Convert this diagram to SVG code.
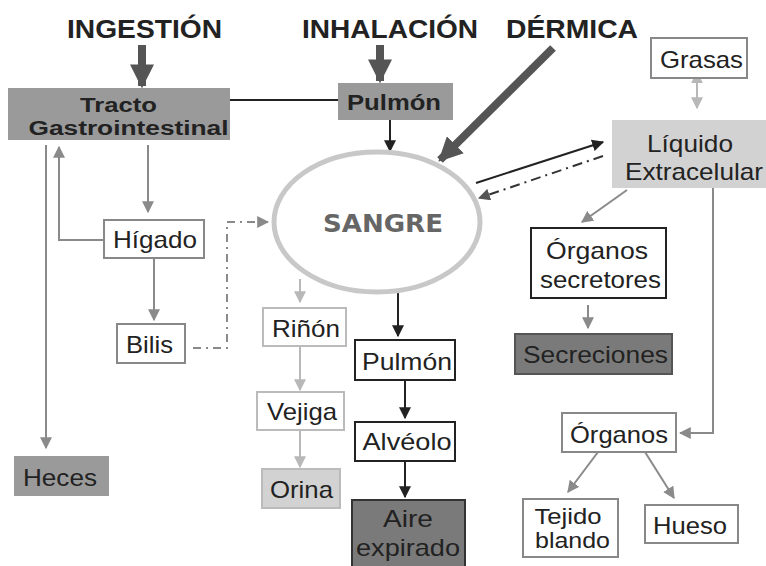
<svg xmlns="http://www.w3.org/2000/svg" width="766" height="566" viewBox="0 0 766 566">
<style>
text{font-family:"Liberation Sans",Arial,sans-serif;fill:#222;text-anchor:middle}
.t{font-size:25px;font-weight:bold}
.b{font-size:22px;font-weight:bold}
.b2{font-size:20px;font-weight:bold}
.n{font-size:24px}
.s{font-size:22px}
.dark{fill:#9a9a9a;stroke:none}
.light{fill:#d2d2d2;stroke:none}
.wg{fill:#fff;stroke:#888;stroke-width:2}
.wl{fill:#fff;stroke:#bbb;stroke-width:2}
.wk{fill:#fff;stroke:#222;stroke-width:2}
.dg{fill:#7a7a7a;stroke:#555;stroke-width:2}
.cg{stroke:#8a8a8a;stroke-width:2;fill:none}
.cl{stroke:#b8b8b8;stroke-width:2;fill:none}
.ck{stroke:#222;stroke-width:2;fill:none}
</style>
<defs>
<marker id="ag" viewBox="0 0 10 10" refX="9" refY="5" markerWidth="6" markerHeight="6" orient="auto"><path d="M0,0L10,5L0,10z" fill="#8a8a8a"/></marker>
<marker id="al" viewBox="0 0 10 10" refX="9" refY="5" markerWidth="6" markerHeight="6" orient="auto"><path d="M0,0L10,5L0,10z" fill="#b8b8b8"/></marker>
<marker id="als" viewBox="0 0 10 10" refX="1" refY="5" markerWidth="6" markerHeight="6" orient="auto-start-reverse"><path d="M0,0L10,5L0,10z" fill="#b8b8b8"/></marker>
<marker id="ak" viewBox="0 0 10 10" refX="9" refY="5" markerWidth="6" markerHeight="6" orient="auto"><path d="M0,0L10,5L0,10z" fill="#222"/></marker>
<marker id="ad" viewBox="0 0 10 10" refX="9" refY="5" markerWidth="6" markerHeight="6" orient="auto"><path d="M0,0L10,5L0,10z" fill="#555"/></marker>
<marker id="big" viewBox="0 0 10 10" refX="9" refY="5" markerWidth="3" markerHeight="3" orient="auto"><path d="M0,0L10,5L0,10z" fill="#555"/></marker>
</defs>

<g id="titles">
<text class="t" x="144.5" y="38" textLength="155" lengthAdjust="spacingAndGlyphs">INGESTIÓN</text>
<text class="t" x="390" y="38" textLength="176" lengthAdjust="spacingAndGlyphs">INHALACIÓN</text>
<text class="t" x="572" y="38" textLength="132" lengthAdjust="spacingAndGlyphs">DÉRMICA</text>
</g>

<g id="connectors">
<line x1="142" y1="45" x2="142" y2="86" stroke="#555" stroke-width="8" marker-end="url(#big)"/>
<line x1="380" y1="45" x2="380" y2="81" stroke="#555" stroke-width="8" marker-end="url(#big)"/>
<line x1="553" y1="48" x2="440" y2="160" stroke="#555" stroke-width="8" marker-end="url(#big)"/>
<line x1="230" y1="100" x2="338" y2="100" stroke="#222" stroke-width="2"/>
<line class="ck" x1="390" y1="120" x2="390" y2="151" marker-end="url(#ak)"/>
<line class="ck" x1="476" y1="183" x2="603" y2="142" marker-end="url(#ak)"/>
<line x1="603" y1="156" x2="479" y2="198" stroke="#333" stroke-width="2" stroke-dasharray="10,5,2,5" marker-end="url(#ad)"/>
<line x1="697" y1="82" x2="697" y2="108" class="cl" marker-start="url(#als)" marker-end="url(#al)"/>
<line class="cg" x1="627" y1="190" x2="582" y2="222" marker-end="url(#ag)"/>
<line class="cg" x1="588" y1="305" x2="588" y2="328" marker-end="url(#ag)"/>
<polyline class="cg" points="713,188 713,433 680,433" marker-end="url(#ag)"/>
<line class="cg" x1="598" y1="452" x2="568" y2="492" marker-end="url(#ag)"/>
<line class="cg" x1="645" y1="452" x2="674" y2="498" marker-end="url(#ag)"/>
<line class="cg" x1="46" y1="145" x2="46" y2="448" marker-end="url(#ag)"/>
<polyline class="cg" points="104,240 59,240 59,147" marker-end="url(#ag)"/>
<line class="cg" x1="148" y1="145" x2="148" y2="212" marker-end="url(#ag)"/>
<line class="cg" x1="154" y1="258" x2="154" y2="320" marker-end="url(#ag)"/>
<polyline points="193,348 227,348 227,222 268,222" fill="none" stroke="#8a8a8a" stroke-width="2" stroke-dasharray="8,5,2,5" marker-end="url(#ag)"/>
<line class="cl" x1="300" y1="279" x2="300" y2="302" marker-end="url(#al)"/>
<line class="cl" x1="300" y1="346" x2="300" y2="390" marker-end="url(#al)"/>
<line class="cl" x1="300" y1="430" x2="300" y2="467" marker-end="url(#al)"/>
<line class="ck" x1="398" y1="293" x2="398" y2="336" marker-end="url(#ak)"/>
<line class="ck" x1="405" y1="380" x2="405" y2="418" marker-end="url(#ak)"/>
<line class="ck" x1="405" y1="461" x2="405" y2="497" marker-end="url(#ak)"/>
</g>

<g id="tracto"><rect class="dark" x="8" y="88" width="222" height="52"/><text class="b2" x="118.5" y="112" textLength="77" lengthAdjust="spacingAndGlyphs">Tracto</text><text class="b2" x="128.5" y="135" textLength="200" lengthAdjust="spacingAndGlyphs">Gastrointestinal</text></g>
<g id="pulmon-top"><rect class="dark" x="338" y="83" width="115" height="37"/><text class="b" x="394" y="110" textLength="94" lengthAdjust="spacingAndGlyphs">Pulmón</text></g>
<g id="sangre"><ellipse cx="377" cy="222" rx="103" ry="70" fill="#fff" stroke="#c8c8c8" stroke-width="5"/><text x="383" y="232" textLength="120" lengthAdjust="spacingAndGlyphs" style="font-family:'DejaVu Sans',sans-serif;font-size:24px;font-weight:bold;fill:#666">SANGRE</text></g>
<g id="grasas"><rect class="wg" x="651" y="38" width="96" height="40"/><text class="n" x="701.5" y="68" textLength="83" lengthAdjust="spacingAndGlyphs">Grasas</text></g>
<g id="liquido"><rect class="light" x="612" y="120" width="154" height="68"/><text class="n" x="690" y="152" textLength="86" lengthAdjust="spacingAndGlyphs">Líquido</text><text class="n" x="694" y="180" textLength="138" lengthAdjust="spacingAndGlyphs">Extracelular</text></g>
<g id="organos-secretores"><rect class="wk" x="531" y="228" width="135" height="70" stroke="#555"/><text class="n" x="597" y="259" textLength="102" lengthAdjust="spacingAndGlyphs">Órganos</text><text class="n" x="600.5" y="288" textLength="121" lengthAdjust="spacingAndGlyphs">secretores</text></g>
<g id="secreciones"><rect class="dg" x="515" y="334" width="157" height="40"/><text class="n" x="595.5" y="363" textLength="145" lengthAdjust="spacingAndGlyphs">Secreciones</text></g>
<g id="organos"><rect class="wg" x="562" y="413" width="114" height="39"/><text class="n" x="619" y="443" textLength="98" lengthAdjust="spacingAndGlyphs">Órganos</text></g>
<g id="tejido"><rect class="wg" x="523" y="499" width="95" height="58"/><text class="s" x="568" y="524" textLength="67" lengthAdjust="spacingAndGlyphs">Tejido</text><text class="s" x="572.5" y="548" textLength="75" lengthAdjust="spacingAndGlyphs">blando</text></g>
<g id="hueso"><rect class="wg" x="645" y="505" width="93" height="38"/><text class="n" x="690" y="534" textLength="74" lengthAdjust="spacingAndGlyphs">Hueso</text></g>
<g id="higado"><rect class="wg" x="104" y="220" width="100" height="38"/><text class="n" x="155" y="248" textLength="84" lengthAdjust="spacingAndGlyphs">Hígado</text></g>
<g id="bilis"><rect class="wg" x="117" y="324" width="68" height="39"/><text class="n" x="149.5" y="353" textLength="47" lengthAdjust="spacingAndGlyphs">Bilis</text></g>
<g id="heces"><rect class="dark" x="14" y="456" width="95" height="40"/><text class="n" x="60" y="486" textLength="74" lengthAdjust="spacingAndGlyphs">Heces</text></g>
<g id="rinon"><rect class="wl" x="263" y="308" width="83" height="38"/><text class="n" x="306" y="337" textLength="68" lengthAdjust="spacingAndGlyphs">Riñón</text></g>
<g id="vejiga"><rect class="wl" x="257" y="392" width="87" height="38"/><text class="n" x="302" y="420" textLength="70" lengthAdjust="spacingAndGlyphs">Vejiga</text></g>
<g id="orina"><rect x="262" y="469" width="78" height="39" fill="#d2d2d2" stroke="#bbb" stroke-width="2"/><text class="n" x="301.5" y="498" textLength="63" lengthAdjust="spacingAndGlyphs">Orina</text></g>
<g id="pulmon-bottom"><rect class="wk" x="355" y="340" width="100" height="40"/><text class="n" x="407" y="370" textLength="90" lengthAdjust="spacingAndGlyphs">Pulmón</text></g>
<g id="alveolo"><rect class="wk" x="355" y="422" width="100" height="39"/><text class="n" x="407" y="450" textLength="89" lengthAdjust="spacingAndGlyphs">Alvéolo</text></g>
<g id="aire"><rect x="352" y="500" width="113" height="68" fill="#7a7a7a" stroke="#333" stroke-width="2"/><text class="n" x="408" y="527" textLength="50" lengthAdjust="spacingAndGlyphs">Aire</text><text class="n" x="408" y="556" textLength="104" lengthAdjust="spacingAndGlyphs">expirado</text></g>
</svg>
